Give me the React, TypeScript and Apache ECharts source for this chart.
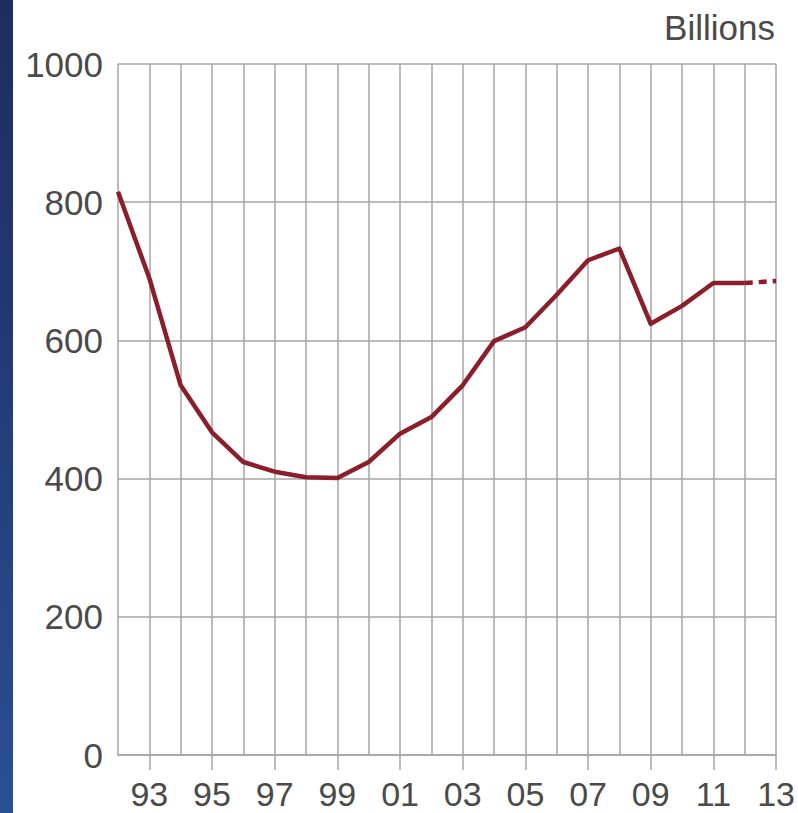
import React, { useEffect, useRef } from "react";
import * as echarts from "echarts";

const years = ["92","93","94","95","96","97","98","99","00","01","02","03","04","05","06","07","08","09","10","11","12","13"];
const actual = [815, 690, 535, 467, 424, 410, 402, 401, 424, 465, 489, 535, 599, 619, 666, 716, 733, 624, 650, 683, 683, null];
const forecast = [null, null, null, null, null, null, null, null, null, null, null, null, null, null, null, null, null, null, null, null, 683, 686];
const yTicks = [0, 200, 400, 600, 800, 1000];
const unitLabel = "Billions";

export default function App() {
  const ref = useRef<HTMLDivElement>(null);
  useEffect(() => {
    const chart = echarts.init(ref.current!, null, { renderer: "svg" });
    const font = "'Liberation Sans', Arial, sans-serif";
    const grey = "#a4a4a4";
    const oddOnly = (i: number) => i % 2 === 1;
    chart.setOption({
      animation: false,
      backgroundColor: "#ffffff",
      grid: { left: 118, right: 19, top: 64, bottom: 58 },
      graphic: [
        {
          type: "rect",
          shape: { x: 0, y: 0, width: 13, height: 813 },
          style: {
            fill: new echarts.graphic.LinearGradient(0, 0, 0, 1, [
              { offset: 0, color: "#1d2d5e" },
              { offset: 0.3, color: "#22356d" },
              { offset: 0.6, color: "#24407e" },
              { offset: 1, color: "#2a4f95" },
            ]),
          },
        },
        {
          type: "text",
          right: 23,
          top: 10,
          style: { text: unitLabel, font: `35px ${font}`, fill: "#4a4a4a" },
        },
      ],
      xAxis: {
        type: "category",
        data: years,
        boundaryGap: false,
        axisLine: { show: true, lineStyle: { color: grey, width: 1.5 } },
        axisTick: { show: true, interval: oddOnly, length: 15, lineStyle: { color: grey, width: 1.5 } },
        axisLabel: {
          interval: oddOnly,
          margin: 22,
          fontSize: 34,
          fontFamily: font,
          color: "#4a4a4a",
        },
        splitLine: { show: true, interval: 0, lineStyle: { color: grey, width: 1.5 } },
      },
      yAxis: {
        type: "value",
        min: 0,
        max: 1000,
        interval: 200,
        axisLine: { show: false },
        axisTick: { show: false },
        axisLabel: {
          margin: 15,
          fontSize: 35,
          fontFamily: font,
          color: "#4a4a4a",
          padding: [8, 0, 0, 0],
          formatter: (v: number) => (yTicks.includes(v) ? String(v) : ""),
        },
        splitLine: { show: true, lineStyle: { color: grey, width: 1.5 } },
      },
      series: [
        {
          type: "line",
          data: actual,
          symbol: "none",
          lineStyle: { color: "#8c1d2a", width: 4.5, join: "round" },
        },
        {
          type: "line",
          data: forecast,
          symbol: "none",
          lineStyle: { color: "#8c1d2a", width: 4.5, type: [8, 6] },
        },
      ],
    });
    return () => chart.dispose();
  }, []);
  return (
    <div
      ref={ref}
      style={{ position: "fixed", left: 0, top: 0, width: 798, height: 813 }}
    />
  );
}
